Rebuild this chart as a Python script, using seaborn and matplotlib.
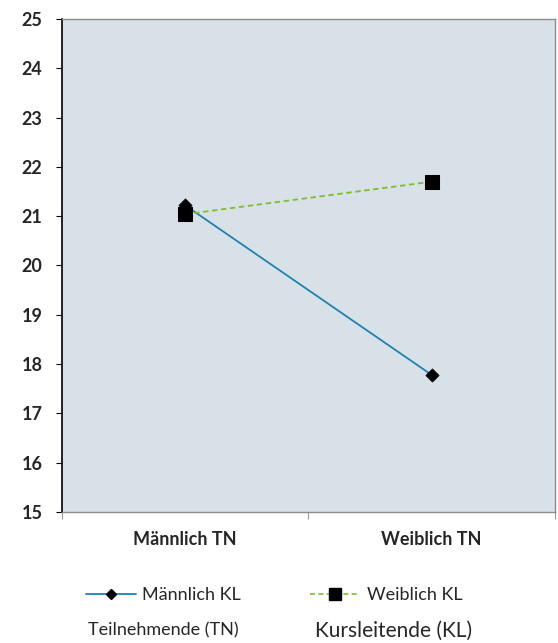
import pandas as pd
import matplotlib.pyplot as plt
import seaborn as sns

# Data
categories = ['Männlich TN', 'Weiblich TN']
maennlich_kl = [21.22, 17.78]
weiblich_kl = [21.04, 21.70]

df = pd.DataFrame({
    'TN': categories * 2,
    'Wert': maennlich_kl + weiblich_kl,
    'KL': ['Männlich KL'] * 2 + ['Weiblich KL'] * 2,
})

sns.set_style('white')
plt.rcParams['font.family'] = ['Lato', 'DejaVu Sans']

fig = plt.figure(figsize=(5.58, 6.43), dpi=100)
ax = fig.add_axes([0.111, 0.2037, 0.8836, 0.7668])
ax.set_facecolor('#D9E1E8')

sns.lineplot(data=df, x='TN', y='Wert', hue='KL', style='KL',
             palette={'Männlich KL': '#1E82AE', 'Weiblich KL': '#7DBE2B'},
             dashes={'Männlich KL': '', 'Weiblich KL': (3, 2)},
             linewidth=1.3, ax=ax, legend=False)

# black markers drawn on top
sns.scatterplot(x=categories, y=maennlich_kl, marker='D', s=45, color='black',
                edgecolor='black', ax=ax, zorder=5)
sns.scatterplot(x=categories, y=weiblich_kl, marker='s', s=90, color='black',
                edgecolor='black', ax=ax, zorder=5)

ax.set_xlim(-0.5, 1.5)
ax.set_ylim(15, 25)
ax.set_yticks(range(15, 26))
ax.set_xticks([-0.5, 0.5, 1.5], minor=False)
ax.set_xticklabels([])
ax.set_xticks([0, 1], minor=True)
ax.set_xticklabels(categories, minor=True, fontsize=13, fontweight='bold')
ax.tick_params(axis='x', which='minor', length=0, pad=14)
ax.tick_params(axis='x', which='major', length=5, color='#999999', direction='out', bottom=True)
ax.tick_params(axis='y', length=4, color='black', direction='out', left=True, pad=10)
for lab in ax.get_yticklabels():
    lab.set_fontweight('bold')
    lab.set_fontsize(13)
ax.set_xlabel('')
ax.set_ylabel('')

for side in ['top', 'right', 'bottom']:
    ax.spines[side].set_color('#8C8C8C')
    ax.spines[side].set_linewidth(1.0)
ax.spines['left'].set_color('black')
ax.spines['left'].set_linewidth(1.2)

# Legend
h1, = ax.plot([], [], color='#1E82AE', lw=1.3, marker='D', markersize=5,
              markerfacecolor='black', markeredgecolor='black')
h2, = ax.plot([], [], color='#7DBE2B', lw=1.2, ls=(0, (3, 2)), marker='s', markersize=8,
              markerfacecolor='black', markeredgecolor='black')
fig.legend([h1, h2], ['Männlich KL', 'Weiblich KL'], loc='center', ncol=2,
           bbox_to_anchor=(0.491, 0.074), frameon=False, fontsize=13,
           handlelength=2.8, handletextpad=0.35, columnspacing=3.8)

fig.text(0.293, 0.019, 'Teilnehmende (TN)', ha='center', va='center', fontsize=13)
fig.text(0.706, 0.019, 'Kursleitende (KL)', ha='center', va='center', fontsize=15)

plt.savefig('out.png', dpi=100)
